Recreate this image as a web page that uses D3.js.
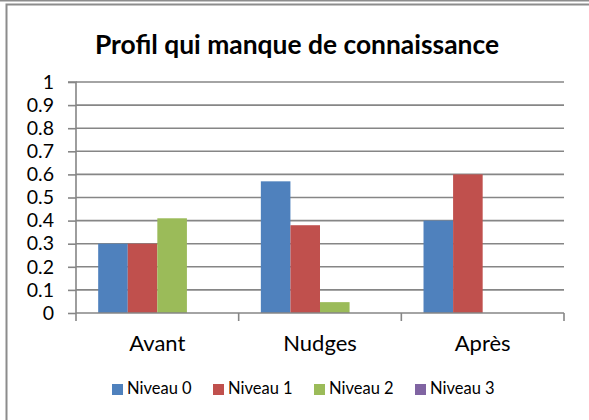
<!DOCTYPE html>
<html>
<head>
<meta charset="utf-8">
<script src="https://cdn.jsdelivr.net/npm/d3@7"></script>
<style>
  html, body { margin: 0; padding: 0; background: #fff; }
  svg { display: block; }
  text { font-family: Lato, "Open Sans", "Liberation Sans", sans-serif; fill: #000; }
</style>
</head>
<body>
<svg id="chart" width="589" height="420"></svg>
<script>
// Chart data
const title = "Profil qui manque de connaissance";
const categories = ["Avant", "Nudges", "Après"];
const seriesNames = ["Niveau 0", "Niveau 1", "Niveau 2", "Niveau 3"];
const seriesColors = ["#4F81BD", "#C0504D", "#9BBB59", "#8064A2"];
const niveau0 = [0.30, 0.57, 0.40];
const niveau1 = [0.30, 0.38, 0.60];
const niveau2 = [0.41, 0.047, 0];
const niveau3 = [0, 0, 0];
const yTicks = [0, 0.1, 0.2, 0.3, 0.4, 0.5, 0.6, 0.7, 0.8, 0.9, 1];

const seriesValues = [niveau0, niveau1, niveau2, niveau3];
const FONT = "Lato, 'Open Sans', sans-serif";

const svg = d3.select("#chart");

// Frame of the chart area
svg.append("line").attr("x1", 0).attr("x2", 589).attr("y1", 0.5).attr("y2", 0.5)
  .attr("stroke", "#8c8c8c").attr("stroke-width", 2);
svg.append("path").attr("d", "M6.5,420 V4.5 H589")
  .attr("fill", "none").attr("stroke", "#8c8c8c").attr("stroke-width", 2);

// Scales
const plot = { left: 76, right: 564, top: 82, bottom: 313 };
const x = d3.scaleBand().domain(categories).range([plot.left, plot.right]).paddingInner(0).paddingOuter(0);
const y = d3.scaleLinear().domain([0, 1]).range([plot.bottom, plot.top]);

// Bars: four per category with 150% gap width
const barW = x.bandwidth() / 5.5;
const xs = d3.scaleBand().domain(seriesNames)
  .range([barW * 0.75, barW * 0.75 + barW * 4]).padding(0);

// Gridlines
svg.append("g").selectAll("line").data(yTicks.filter(t => t > 0)).join("line")
  .attr("x1", plot.left).attr("x2", plot.right)
  .attr("y1", d => y(d)).attr("y2", d => y(d))
  .attr("stroke", "#868686").attr("stroke-width", 1.6);

const groups = svg.append("g").selectAll("g").data(categories).join("g")
  .attr("transform", c => `translate(${x(c)},0)`);
groups.selectAll("rect")
  .data((c, i) => seriesNames.map((s, k) => ({ s, k, v: seriesValues[k][i] })))
  .join("rect")
  .attr("x", d => xs(d.s))
  .attr("width", xs.bandwidth())
  .attr("y", d => y(d.v))
  .attr("height", d => y(0) - y(d.v))
  .attr("fill", d => seriesColors[d.k]);

// Y axis
const yAxis = d3.axisLeft(y).tickValues(yTicks).tickSize(8).tickPadding(14)
  .tickFormat(d => d === 0 ? "0" : d === 1 ? "1" : d3.format(".1f")(d));
const gy = svg.append("g").attr("transform", `translate(${plot.left},0)`).call(yAxis);
gy.select(".domain").attr("stroke", "#868686").attr("stroke-width", 1.6).attr("d", `M-8,${y(1)}H0V${y(0)}`);
gy.selectAll(".tick line").attr("stroke", "#868686").attr("stroke-width", 1.6);
gy.selectAll(".tick text").style("font-size", "19.5px").attr("fill", "#000")
  .style("font-family", FONT);

// X axis
const xAxis = d3.axisBottom(x).tickSize(0).tickPadding(22);
const gx = svg.append("g").attr("transform", `translate(0,${plot.bottom})`).call(xAxis);
gx.select(".domain").attr("stroke", "#868686").attr("stroke-width", 1.6).attr("d", `M${plot.left},0H${plot.right}`);
gx.selectAll(".tick text").style("font-size", "22px").attr("fill", "#000")
  .style("font-family", FONT);
// Category boundary tick marks
const bounds = categories.map(c => x(c)).concat([plot.right]);
svg.append("g").selectAll("line").data(bounds).join("line")
  .attr("x1", d => d).attr("x2", d => d)
  .attr("y1", plot.bottom).attr("y2", plot.bottom + 8)
  .attr("stroke", "#868686").attr("stroke-width", 1.6);

// Title
svg.append("text").attr("x", 297).attr("y", 54).attr("text-anchor", "middle")
  .style("font-size", "26.4px").style("font-weight", "bold").text(title);

// Legend
const legend = svg.append("g").selectAll("g").data(seriesNames).join("g")
  .attr("transform", (d, i) => `translate(${112 + i * 101},384)`);
legend.append("rect").attr("width", 11).attr("height", 11).attr("fill", (d, i) => seriesColors[i]);
legend.append("text").attr("x", 15).attr("y", 5.5).attr("dominant-baseline", "middle")
  .style("font-size", "16.5px").text(d => d);
</script>
</body>
</html>
